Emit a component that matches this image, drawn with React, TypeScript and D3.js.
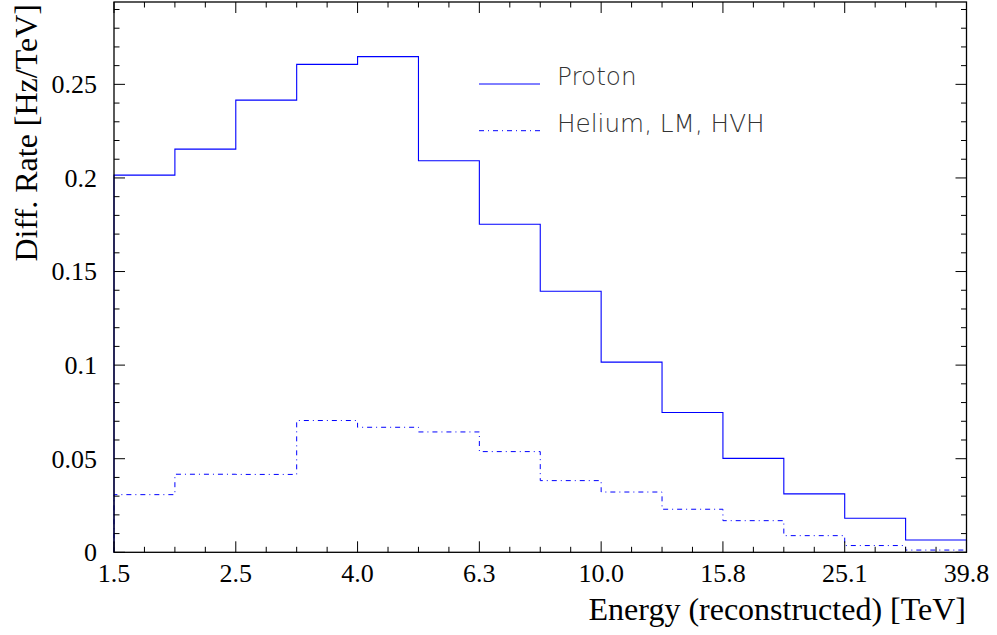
import React from "react";
import * as d3 from "d3";

// log10(E/TeV) bin edges: 14 bins of 0.1 decade from 10^0.2 to 10^1.6
const binLogEdges = [0.2, 0.3, 0.4, 0.5, 0.6, 0.7, 0.8, 0.9, 1.0, 1.1, 1.2, 1.3, 1.4, 1.5, 1.6];

const protonRate = [0.2015, 0.2154, 0.2416, 0.2607, 0.2648, 0.2092, 0.1753, 0.1395, 0.1016, 0.0747, 0.0502, 0.0312, 0.0182, 0.0066];
const heliumRate = [0.0308, 0.0417, 0.0416, 0.0704, 0.0668, 0.0643, 0.0538, 0.0383, 0.0322, 0.0230, 0.0169, 0.0089, 0.0036, 0.0012];

const xTickLogs = [0.2, 0.4, 0.6, 0.8, 1.0, 1.2, 1.4, 1.6];
const xTickLabels = ["1.5", "2.5", "4.0", "6.3", "10.0", "15.8", "25.1", "39.8"];
const yTickValues = [0, 0.05, 0.1, 0.15, 0.2, 0.25];
const yTickLabels = ["0", "0.05", "0.1", "0.15", "0.2", "0.25"];

const W = 997;
const H = 635;
const left = 114;
const right = 966.5;
const top = 2;
const bottom = 552.3;
const yMax = 0.294;

const x = d3.scaleLinear().domain([0.2, 1.6]).range([left, right]);
const y = d3.scaleLinear().domain([0, yMax]).range([bottom, top]);

const BLUE = "#0000ff";
const SERIF = "'Liberation Serif', 'Times New Roman', serif";
const SANS = "'DejaVu Sans', sans-serif";

function histPath(values: number[]): string {
  const pts: [number, number][] = [[binLogEdges[0], 0]];
  values.forEach((v, i) => {
    pts.push([binLogEdges[i], v]);
    pts.push([binLogEdges[i + 1], v]);
  });
  pts.push([binLogEdges[binLogEdges.length - 1], 0]);
  const line = d3
    .line<[number, number]>()
    .x((d) => x(d[0]))
    .y((d) => y(d[1]));
  return line(pts) || "";
}

export default function App() {
  const xMinor = d3.range(0.2, 1.6001, 0.05);
  const yMinor = d3.range(0, yMax, 0.01);
  const majorLen = 11;
  const minorLen = 5.5;

  return (
    <svg
      width={W}
      height={H}
      style={{ position: "fixed", left: 0, top: 0, background: "#fff" }}
    >
      <rect x={0} y={0} width={W} height={H} fill="#fff" />

      {/* histograms */}
      <path d={histPath(heliumRate)} fill="none" stroke={BLUE} strokeWidth={1} strokeDasharray="5 4 1 4" />
      <path d={histPath(protonRate)} fill="none" stroke={BLUE} strokeWidth={1.1} />

      {/* frame */}
      <rect x={left} y={top} width={right - left} height={bottom - top} fill="none" stroke="#000" strokeWidth={1.3} />

      {/* x ticks, bottom and top */}
      {xMinor.map((v, i) => {
        const isMajor = i % 4 === 0;
        const len = isMajor ? majorLen : minorLen;
        const px = x(v);
        return (
          <g key={`xt${i}`} stroke="#000" strokeWidth={1}>
            <line x1={px} x2={px} y1={bottom} y2={bottom - len} />
            <line x1={px} x2={px} y1={top} y2={top + len} />
          </g>
        );
      })}

      {/* y ticks, left and right */}
      {yMinor.map((v, i) => {
        const isMajor = i % 5 === 0;
        const len = isMajor ? majorLen : minorLen;
        const py = y(v);
        return (
          <g key={`yt${i}`} stroke="#000" strokeWidth={1}>
            <line x1={left} x2={left + len} y1={py} y2={py} />
            <line x1={right} x2={right - len} y1={py} y2={py} />
          </g>
        );
      })}

      {/* x tick labels */}
      {xTickLogs.map((v, i) => (
        <text
          key={`xl${i}`}
          x={x(v)}
          y={582}
          textAnchor="middle"
          fontFamily={SERIF}
          fontSize={26}
          fill="#000"
        >
          {xTickLabels[i]}
        </text>
      ))}

      {/* y tick labels */}
      {yTickValues.map((v, i) => (
        <text
          key={`yl${i}`}
          x={97}
          y={y(v)}
          dy="0.34em"
          textAnchor="end"
          fontFamily={SERIF}
          fontSize={26}
          fill="#000"
        >
          {yTickLabels[i]}
        </text>
      ))}

      {/* axis titles */}
      <text x={966} y={620} textAnchor="end" fontFamily={SERIF} fontSize={32} fill="#000">
        Energy (reconstructed) [TeV]
      </text>
      <text
        transform={`translate(37,4) rotate(-90)`}
        textAnchor="end"
        fontFamily={SERIF}
        fontSize={32}
        fill="#000"
      >
        Diff. Rate [Hz/TeV]
      </text>

      {/* legend */}
      <line x1={479} x2={540} y1={84} y2={84} stroke={BLUE} strokeWidth={1} />
      <text x={557} y={85} fontFamily={SANS} fontWeight={200} fontSize={24.7} fill="#333">
        Proton
      </text>
      <line x1={479} x2={540} y1={130.7} y2={130.7} stroke={BLUE} strokeWidth={1} strokeDasharray="5 4 1 4" />
      <text x={557} y={131.5} fontFamily={SANS} fontWeight={200} fontSize={24.7} fill="#333">
        Helium, LM, HVH
      </text>
    </svg>
  );
}
